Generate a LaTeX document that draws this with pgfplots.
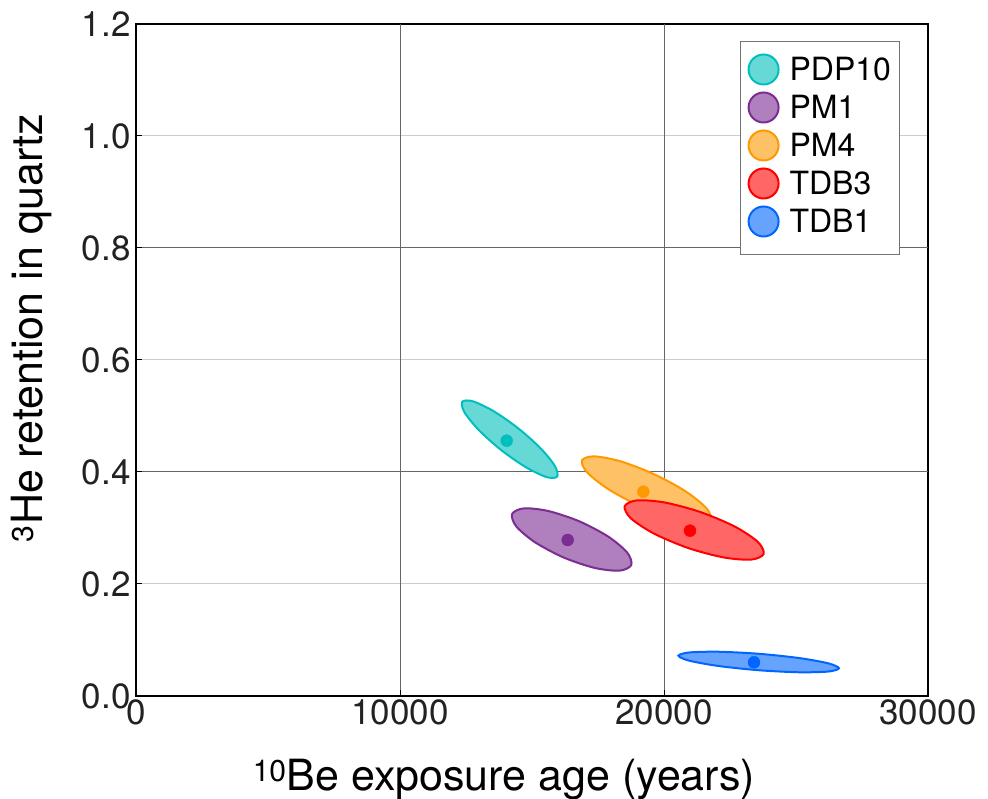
\documentclass[border=0pt]{standalone}
\usepackage{fontspec}
\setmainfont{TeX Gyre Heros}
\usepackage{pgfplots}
\pgfplotsset{compat=1.18}
\definecolor{cPDPe}{RGB}{0,191,191}
\definecolor{cPDPf}{RGB}{102,217,214}
\definecolor{cPMae}{RGB}{123,45,145}
\definecolor{cPMaf}{RGB}{176,128,190}
\definecolor{cPMbe}{RGB}{255,153,0}
\definecolor{cPMbf}{RGB}{255,193,102}
\definecolor{cTBce}{RGB}{255,0,0}
\definecolor{cTBcf}{RGB}{255,102,102}
\definecolor{cTBae}{RGB}{0,102,255}
\definecolor{cTBaf}{RGB}{102,163,255}
\definecolor{ticktext}{RGB}{34,34,34}
\begin{document}
\begin{tikzpicture}
\useasboundingbox (-136pt,-103pt) rectangle (852pt,696pt);
\begin{axis}[
  at={(0pt,0pt)}, anchor=south west,
  scale only axis, width=792pt, height=672pt,
  xmin=0, xmax=30000, ymin=0, ymax=1.2,
  xtick={0,10000,20000,30000},
  ytick={0,0.2,0.4,0.6,0.8,1.0,1.2},
  scaled x ticks=false,
  xticklabel style={/pgf/number format/1000 sep={}},
  yticklabel style={xshift=-2pt, /pgf/number format/.cd, fixed, fixed zerofill, precision=1},
  /pgf/number format/assume math mode=true,
  ticklabel style={font=\fontsize{35}{42}\selectfont, text=ticktext},
  axis line style={line width=2pt, black},
  tick style={black, line width=1pt},
  tick align=inside,
  major tick length=6pt,
  xtick pos=left, ytick pos=left,
  ymajorgrids,
  major grid style={black!20, line width=1pt},
  extra y ticks={0.4,0.8}, extra y tick labels={},
  extra y tick style={grid=major, major grid style={black!60, line width=1pt}},
  extra x ticks={10000,20000}, extra x tick labels={},
  extra x tick style={grid=major, major grid style={black!60, line width=1pt}},
  xlabel={\textsuperscript{10}Be exposure age (years)},
  ylabel={\textsuperscript{3}He retention in quartz},
  label style={font=\fontsize{43}{50}\selectfont},
  xlabel style={at={(axis description cs:0.4646,-0.1413)}, anchor=base},
  ylabel style={at={(axis description cs:-0.1175,0.5476)}, anchor=base, rotate=0},
  legend style={at={(0.9646,0.9747)}, anchor=north east, draw=black!55, line width=1pt,
    font=\fontsize{32}{38}\selectfont, inner xsep=6.5pt, inner ysep=11pt, row sep=-1pt},
  legend cell align=left,
  legend image code/.code={\draw[#1, line width=2pt, overlay] (0pt,0pt) circle (15pt); \path (-16pt,-21pt) (23pt,16pt);},
]
% PDP10
\addplot[draw=cPDPe, fill=cPDPf, line width=2pt, smooth cycle] coordinates {
(15950,0.3916) (15547,0.3910) (14772,0.4084) (13831,0.4392) (12977,0.4753) (12439,0.5069)
(12361,0.5255) (12764,0.5262) (13539,0.5088) (14480,0.4779) (15334,0.4419) (15872,0.4103)};
\addlegendentry{PDP10}
% PM1
\addplot[draw=cPMae, fill=cPMaf, line width=2pt, smooth cycle] coordinates {
(18760,0.2339) (18311,0.2238) (17377,0.2287) (16210,0.2471) (15121,0.2743) (14403,0.3028)
(14248,0.3250) (14697,0.3351) (15630,0.3302) (16798,0.3118) (17886,0.2847) (18605,0.2562)};
\addlegendentry{PM1}
% PM4
\addplot[draw=cPMbe, fill=cPMbf, line width=2pt, smooth cycle] coordinates {
(21780,0.3149) (21315,0.3078) (20319,0.3168) (19060,0.3395) (17876,0.3698) (17083,0.3995)
(16894,0.4208) (17360,0.4279) (18356,0.4190) (19614,0.3963) (20799,0.3660) (21592,0.3362)};
\addlegendentry{PM4}
% TDB3
\addplot[draw=cTBce, fill=cTBcf, line width=2pt, smooth cycle] coordinates {
(23778,0.2539) (23309,0.2436) (22259,0.2474) (20911,0.2643) (19625,0.2899) (18746,0.3172)
(18510,0.3389) (18979,0.3493) (20029,0.3455) (21377,0.3285) (22663,0.3030) (23542,0.2757)};
\addlegendentry{TDB3}
% TDB1
\addplot[draw=cTBae, fill=cTBaf, line width=2pt, smooth cycle] coordinates {
(26627,0.0494) (26208,0.0436) (25086,0.0424) (23563,0.0461) (22046,0.0537) (20943,0.0632)
(20547,0.0720) (20967,0.0778) (22089,0.0790) (23612,0.0753) (25128,0.0677) (26232,0.0582)};
\addlegendentry{TDB1}
% centre points
\addplot[only marks, mark=*, mark size=6pt, color=cPDPe, forget plot] coordinates {(14042,0.4559)};
\addplot[only marks, mark=*, mark size=6pt, color=cPMae, forget plot] coordinates {(16352,0.2786)};
\addplot[only marks, mark=*, mark size=6pt, color=cPMbe, forget plot] coordinates {(19216,0.3648)};
\addplot[only marks, mark=*, mark size=6pt, color=cTBce, forget plot] coordinates {(20985,0.2952)};
\addplot[only marks, mark=*, mark size=6pt, color=cTBae, forget plot] coordinates {(23409,0.0602)};
\end{axis}
\end{tikzpicture}
\end{document}
